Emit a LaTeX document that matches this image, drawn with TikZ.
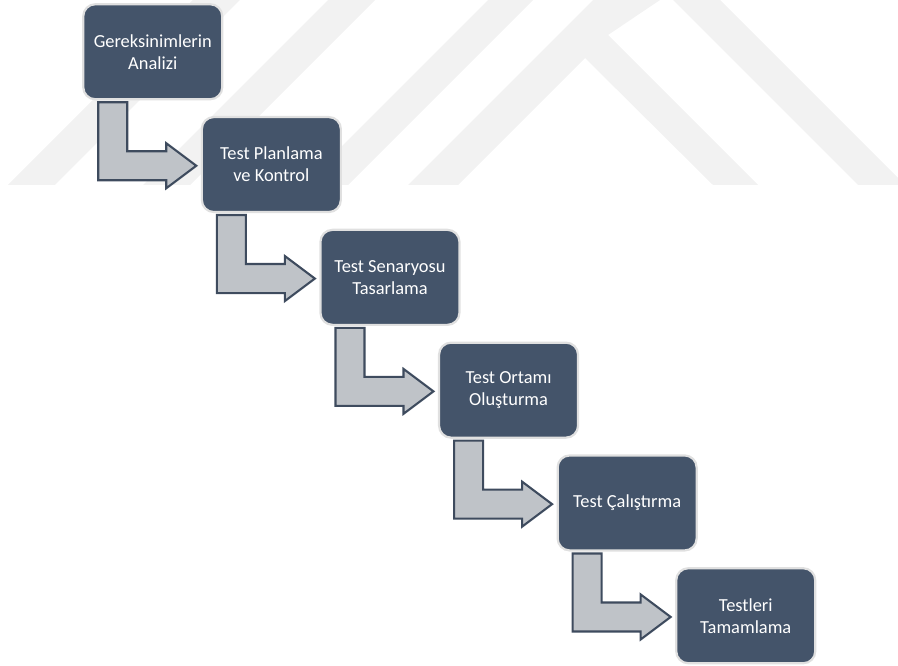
\documentclass[tikz,border=0pt]{standalone}
\usepackage{fontspec}
\setmainfont{Carlito}
\usetikzlibrary{calc}
\definecolor{boxfill}{HTML}{44546A}
\definecolor{boxedge}{HTML}{E0E0E0}
\definecolor{arrfill}{HTML}{BFC3C8}
\definecolor{arredge}{HTML}{3E4B5E}
\definecolor{wmark}{HTML}{F2F2F2}
\begin{document}
\begin{tikzpicture}[x=1pt,y=-1pt,
  stepbox/.style={draw=boxedge, line width=2.2pt, fill=boxfill, rounded corners=12pt,
    minimum width=139pt, minimum height=95pt, inner sep=0pt, outer sep=0pt,
    text=white, align=center, font=\fontsize{18.4}{22}\selectfont},
  bendarrow/.style={draw=arredge, fill=arrfill, line width=2.1pt, line join=miter}]
\useasboundingbox (0,0) rectangle (898,666);
% faint watermark
\begin{scope}
\clip (0,0) rectangle (898,666);
\fill[wmark] (8,185) -- (55,185) -- (240,0) -- (193,0) -- cycle;
\fill[wmark] (143,185) -- (190,185) -- (375,0) -- (328,0) -- cycle;
\fill[wmark] (303,185) -- (348,185) -- (533,0) -- (488,0) -- cycle;
\fill[wmark] (408,185) -- (458,185) -- (585,58) -- (713,185) -- (758,185)
  -- (608,35) -- (660,0) -- (673,0) -- (858,185) -- (905,185) -- (720,0)
  -- (593,0) -- cycle;
\end{scope}
% boxes
\node[stepbox] (b1) at (152.75,51.75) {Gereksinimlerin\\Analizi};
\node[stepbox] (b2) at (271.35,164.55) {Test Planlama\\ve Kontrol};
\node[stepbox] (b3) at (389.95,277.35) {Test Senaryosu\\Tasarlama};
\node[stepbox] (b4) at (508.55,390.15) {Test Ortamı\\Oluşturma};
\node[stepbox] (b5) at (627.15,502.95) {Test Çalıştırma};
\node[stepbox] (b6) at (745.75,615.75) {Testleri\\Tamamlama};
% bent arrows
\foreach \a in {b1,b2,b3,b4,b5}{
  \draw[bendarrow] ($(\a.south west)+(15,3)$) -- ($(\a.south west)+(44,3)$)
    -- ($(\a.south west)+(44,52)$) -- ($(\a.south west)+(83,52)$)
    -- ($(\a.south west)+(83,44)$) -- ($(\a.south west)+(113,66.5)$)
    -- ($(\a.south west)+(83,89)$) -- ($(\a.south west)+(83,81)$)
    -- ($(\a.south west)+(15,81)$) -- cycle;
}
\end{tikzpicture}
\end{document}
